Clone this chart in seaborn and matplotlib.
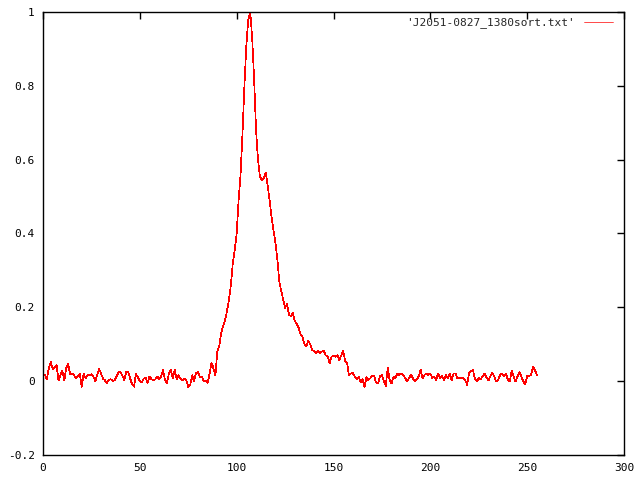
import numpy as np
import pandas as pd
import matplotlib
matplotlib.use("Agg")
import matplotlib.pyplot as plt
import seaborn as sns

# normalised pulse profile, one value per phase bin
profile = [
    0.019, 0.017, 0.005, 0.035, 0.052, 0.033, 0.036, 0.044, 0.002, 0.017,
    0.028, 0.002, 0.036, 0.046, 0.018, 0.020, 0.017, 0.007, 0.013, 0.020,
    -0.015, 0.020, 0.007, 0.017, 0.015, 0.019, 0.013, 0.000, 0.017, 0.033,
    0.020, 0.007, 0.002, -0.005, 0.003, 0.005, 0.000, 0.003, 0.013, 0.025,
    0.025, 0.015, 0.003, 0.025, 0.025, 0.007, -0.008, -0.015, 0.020, 0.010,
    0.000, -0.003, 0.007, 0.010, -0.005, 0.013, 0.005, 0.003, 0.005, 0.013,
    0.005, 0.013, 0.030, 0.003, -0.005, 0.020, 0.030, 0.007, 0.030, 0.005,
    0.016, 0.007, 0.003, 0.007, 0.003, -0.016, -0.010, 0.016, 0.000, 0.021,
    0.025, 0.012, 0.013, 0.000, 0.000, -0.005, 0.020, 0.050, 0.035, 0.015,
    0.080, 0.095, 0.130, 0.150, 0.165, 0.190, 0.220, 0.260, 0.320, 0.355,
    0.400, 0.490, 0.560, 0.670, 0.800, 0.910, 0.980, 1.000, 0.930, 0.820,
    0.680, 0.600, 0.555, 0.545, 0.550, 0.565, 0.530, 0.490, 0.445, 0.410,
    0.375, 0.330, 0.270, 0.245, 0.222, 0.198, 0.210, 0.180, 0.176, 0.184,
    0.163, 0.155, 0.145, 0.127, 0.120, 0.100, 0.094, 0.110, 0.100, 0.084,
    0.082, 0.077, 0.082, 0.076, 0.080, 0.082, 0.070, 0.066, 0.049, 0.066,
    0.070, 0.066, 0.070, 0.056, 0.070, 0.082, 0.055, 0.050, 0.015, 0.021,
    0.022, 0.012, 0.005, 0.012, -0.003, 0.005, -0.017, 0.012, 0.003, 0.008,
    0.015, 0.013, -0.004, -0.006, 0.013, 0.017, 0.000, -0.013, 0.037, 0.003,
    -0.006, 0.013, 0.008, 0.021, 0.017, 0.021, 0.017, 0.008, -0.001, 0.008,
    0.017, 0.008, -0.001, 0.005, 0.013, 0.031, 0.008, 0.017, 0.021, 0.017,
    0.021, 0.008, 0.013, 0.003, 0.021, 0.008, 0.015, 0.003, 0.017, 0.008,
    0.021, 0.003, 0.021, 0.021, 0.008, 0.008, 0.010, 0.008, 0.003, -0.010,
    0.021, 0.027, 0.030, 0.008, -0.001, 0.008, 0.005, 0.014, 0.020, 0.010,
    0.002, 0.013, 0.023, 0.013, -0.001, 0.003, 0.017, 0.021, 0.013, 0.020,
    0.005, -0.001, 0.028, 0.013, -0.001, 0.013, 0.025, 0.013, -0.001, -0.008,
    0.014, 0.014, 0.017, 0.040, 0.030, 0.017,
]
phase_bin = list(range(len(profile)))
series_label = "'J2051-0827_1380sort.txt'"
x_ticks = [0, 50, 100, 150, 200, 250, 300]
y_ticks = [-0.2, 0, 0.2, 0.4, 0.6, 0.8, 1]
y_tick_labels = ["-0.2", "0", "0.2", "0.4", "0.6", "0.8", "1"]

sns.set_style("white")
plt.rcParams["font.family"] = ["DejaVu Sans Mono"]
plt.rcParams["axes.unicode_minus"] = False

df = pd.DataFrame({"bin": phase_bin, "flux": profile})

fig = plt.figure(figsize=(6.4, 4.8), dpi=100)
ax = fig.add_axes([0.0672, 0.0521, 0.9078, 0.9229])
# thin, non-antialiased line to get the crisp 1px gnuplot look
sns.lineplot(data=df, x="bin", y="flux", color="red", linewidth=0.5,
             label=series_label, ax=ax, antialiased=False)

ax.set_xlim(0, 300)
ax.set_ylim(-0.2, 1)
ax.set_xticks(x_ticks)
ax.set_yticks(y_ticks)
ax.set_xticklabels([str(t) for t in x_ticks])
ax.set_yticklabels(y_tick_labels)
ax.set_xlabel("")
ax.set_ylabel("")
ax.tick_params(direction="in", length=5, width=1, top=True, right=True,
               labelsize=8, colors="black", pad=6)
for sp in ax.spines.values():
    sp.set_color("black")
    sp.set_linewidth(1)

ax.legend(loc="upper right", frameon=False, markerfirst=False,
          fontsize=8, handlelength=2.6, borderaxespad=0.1,
          bbox_to_anchor=(0.99, 1.0))

fig.savefig("out.png", dpi=100)
plt.close(fig)
